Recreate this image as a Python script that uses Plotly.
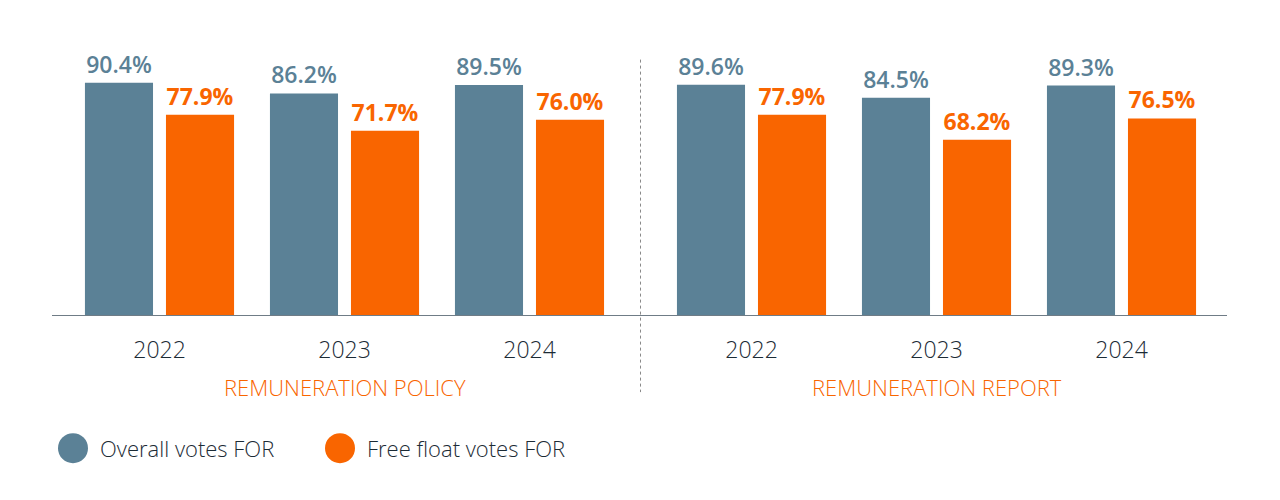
import plotly.graph_objects as go

years = ["2022", "2023", "2024"]
sections = ["REMUNERATION POLICY", "REMUNERATION REPORT"]
overall_policy = [90.4, 86.2, 89.5]
free_policy = [77.9, 71.7, 76.0]
overall_report = [89.6, 84.5, 89.3]
free_report = [77.9, 68.2, 76.5]
series_names = ["Overall votes FOR", "Free float votes FOR"]

BLUE = "#5b8196"
ORANGE = "#f96500"
DARK = "#1c2b35"
FONT = "Open Sans"

# group positions: 3 per section, with an extra gap between sections
gap = 0.2
pos = [0, 1, 2] + [3 + gap + i for i in range(3)]
tick_text = years + years
overall = overall_policy + overall_report
free = free_policy + free_report

OFF = 8  # page body margin
bar_w = 0.368
fig = go.Figure()
fig.add_trace(go.Bar(
    x=pos, y=overall, width=bar_w, offset=-0.403,
    marker=dict(color=BLUE, line=dict(width=0)),
    text=[f"{v:.1f}%" for v in overall], textposition="outside",
    textfont=dict(family=FONT, size=23, color=BLUE, weight=600),
    cliponaxis=False, showlegend=False, name=series_names[0],
))
fig.add_trace(go.Bar(
    x=pos, y=free, width=bar_w, offset=0.035,
    marker=dict(color=ORANGE, line=dict(width=0)),
    text=[f"{v:.1f}%" for v in free], textposition="outside",
    textfont=dict(family=FONT, size=23, color=ORANGE, weight=700),
    cliponaxis=False, showlegend=False, name=series_names[1],
))

W, H = 1280 - OFF, 500 - OFF
left, right = 52 - OFF, 1227 - OFF
top, bottom = 58.4 - OFF, 315 - OFF
span = 185.0
x0 = -(159.5 - 52) / span
x1 = (1227 - 159.5) / span
plot_h = bottom - top

fig.update_layout(
    width=W, height=H,
    margin=dict(l=left, r=W - right, t=top, b=H - bottom, pad=0),
    plot_bgcolor="white", paper_bgcolor="white",
    showlegend=False,
    xaxis=dict(range=[x0, x1], tickvals=pos, ticktext=tick_text,
               showgrid=False, zeroline=False, showline=True,
               linecolor="#6f7c86", linewidth=1,
               ticks="outside", ticklen=0, ticklabelstandoff=14,
               tickfont=dict(family=FONT, size=23, color=DARK, weight=300)),
    yaxis=dict(range=[0, 100], visible=False, showgrid=False, zeroline=False),
    font=dict(family=FONT),
)

def py(y_ref):
    return (315 - y_ref) / (315 - 58.4)

def px(x_ref):
    return (x_ref - 52) / (1227 - 52)

# divider between sections
mid = (pos[2] + pos[3]) / 2
fig.add_shape(type="line", xref="x", yref="paper", x0=mid, x1=mid,
              y0=py(60), y1=py(392),
              line=dict(color="#8a8a8a", width=1, dash="dot"))

# section labels
for i, s in enumerate(sections):
    fig.add_annotation(x=pos[3 * i + 1], y=py(387), xref="x", yref="paper",
                       text=s, showarrow=False, yanchor="middle",
                       font=dict(family=FONT, size=22, color=ORANGE, weight=300))

# legend (manual, large circles)
leg_items = [(73, BLUE, series_names[0]), (340, ORANGE, series_names[1])]
for cx, col, name in leg_items:
    fig.add_shape(type="circle", xref="paper", yref="paper",
                  xsizemode="pixel", ysizemode="pixel",
                  xanchor=px(cx), yanchor=py(448), x0=-15, x1=15, y0=-15, y1=15,
                  fillcolor=col, line=dict(width=0))
    fig.add_annotation(x=px(cx + 25), y=py(448),
                       xref="paper", yref="paper", text=name, showarrow=False,
                       xanchor="left", yanchor="middle",
                       font=dict(family=FONT, size=22, color=DARK, weight=300))

fig.write_html("out.html")
